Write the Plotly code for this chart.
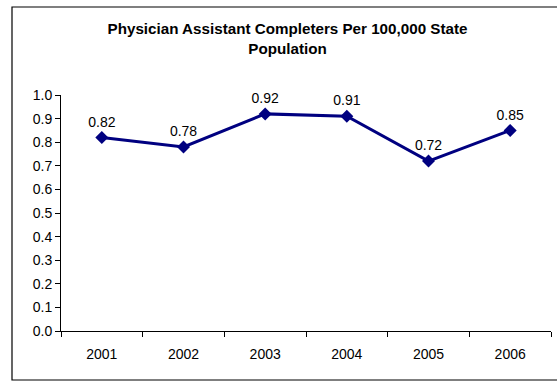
import plotly.graph_objects as go

years = ["2001", "2002", "2003", "2004", "2005", "2006"]
values = [0.82, 0.78, 0.92, 0.91, 0.72, 0.85]
labels = ["0.82", "0.78", "0.92", "0.91", "0.72", "0.85"]
y_ticks = [0.0, 0.1, 0.2, 0.3, 0.4, 0.5, 0.6, 0.7, 0.8, 0.9, 1.0]

W, H = 557, 381
L, R, T, B = 61, 6, 95, 50
pw, ph = W - L - R, H - T - B
FONT = "Liberation Sans, Arial"

fig = go.Figure()
fig.add_trace(go.Scatter(
    x=years, y=values, mode="lines+markers+text",
    text=labels, textposition="top center",
    textfont=dict(family=FONT, size=14, color="#000000"),
    line=dict(color="#000080", width=3),
    marker=dict(symbol="diamond", size=10, color="#000080"),
    cliponaxis=False, showlegend=False,
))

def px(x):
    return (x - L) / pw

def py(y):
    return (H - B - y) / ph

fig.update_layout(
    width=W, height=H,
    margin=dict(l=L, r=R, t=T, b=B),
    paper_bgcolor="white", plot_bgcolor="white",
    font=dict(family=FONT, size=14, color="#000000"),
    title=dict(
        text="<b>Physician Assistant Completers Per 100,000 State<br>Population</b>",
        x=287.5 / W, xanchor="center", xref="container",
        y=1 - 34 / H, yanchor="top",
        font=dict(family=FONT, size=15.2, color="#000000"),
    ),
    xaxis=dict(
        type="category", tickson="boundaries", ticks="outside", ticklen=5,
        tickcolor="#000000", showline=True, linecolor="#000000", linewidth=1,
        showgrid=False, zeroline=False, range=[-0.5, 5.5],
        tickfont=dict(size=14), ticklabelstandoff=10,
    ),
    yaxis=dict(
        range=[0, 1.0], tickvals=y_ticks, tickformat=".1f", ticks="outside",
        ticklen=5, tickcolor="#000000", showline=True, linecolor="#000000",
        linewidth=1, showgrid=False, zeroline=False, tickfont=dict(size=14),
    ),
    shapes=[dict(
        type="rect", xref="paper", yref="paper",
        x0=px(12), x1=px(565), y0=py(380), y1=py(7),
        line=dict(color="#000000", width=1.2), layer="below",
    )],
)

fig.write_html(
    "out.html",
    config={"displayModeBar": False},
    post_script="document.body.style.margin='0';document.body.style.overflow='hidden';",
)
